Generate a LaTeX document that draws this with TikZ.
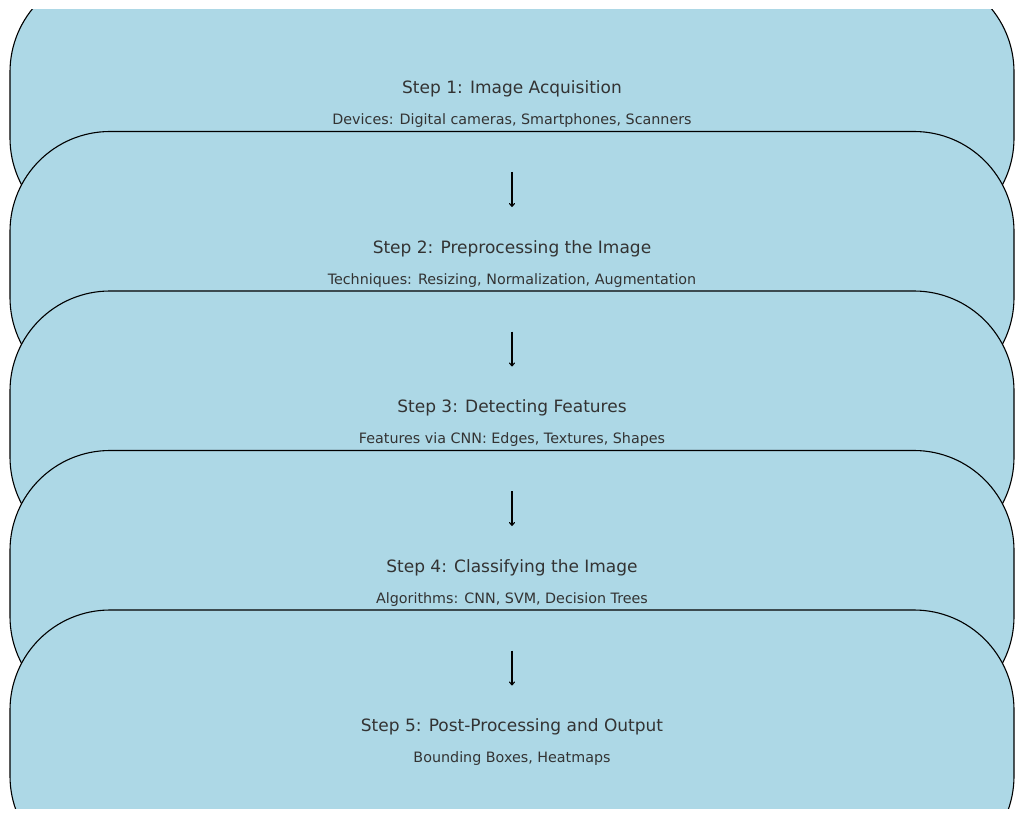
\documentclass[tikz,border=0pt]{standalone}
\usepackage{fontspec}
\setmainfont{DejaVu Sans}
\usetikzlibrary{positioning,arrows.meta}
\definecolor{boxblue}{HTML}{ADD8E6}
\definecolor{txtgray}{HTML}{333333}
\tikzset{
  stepbox/.style={draw=black, line width=1.1pt, fill=boxblue, rounded corners=100pt,
    minimum width=1004pt, minimum height=266pt, inner sep=0pt},
  steptitle/.style={text=txtgray, font=\fontsize{17}{19}\selectfont},
  stepnote/.style={text=txtgray, font=\fontsize{14.3}{16}\selectfont},
  flow/.style={line width=1.1pt, -{To[length=4pt,width=6pt]}}
}
\begin{document}
\begin{tikzpicture}[x=1pt,y=1pt]
\useasboundingbox (0,0) rectangle (1024,-818);
\clip (0,-10) rectangle (1024,-808);

\foreach \i/\title/\note in {
  1/{Step 1: Image Acquisition}/{Devices: Digital cameras, Smartphones, Scanners},
  2/{Step 2: Preprocessing the Image}/{Techniques: Resizing, Normalization, Augmentation},
  3/{Step 3: Detecting Features}/{Features via CNN: Edges, Textures, Shapes},
  4/{Step 4: Classifying the Image}/{Algorithms: CNN, SVM, Decision Trees},
  5/{Step 5: Post-Processing and Output}/{Bounding Boxes, Heatmaps}}
{
  \node[stepbox] (box\i) at (512,{-105-159.5*(\i-1)}) {};
  \node[steptitle] (title\i) at ([yshift=16pt]box\i.center) {\title};
  \node[stepnote] (note\i) at ([yshift=-16pt]box\i.center) {\note};
}

% arrows between steps
\foreach \i in {1,...,4}{
  \coordinate (from\i) at ([yshift=-67pt]box\i.center);
  \coordinate (to\i) at ([yshift=-102pt]box\i.center);
  \draw[flow] (from\i) -- (to\i);
}
\end{tikzpicture}
\end{document}
